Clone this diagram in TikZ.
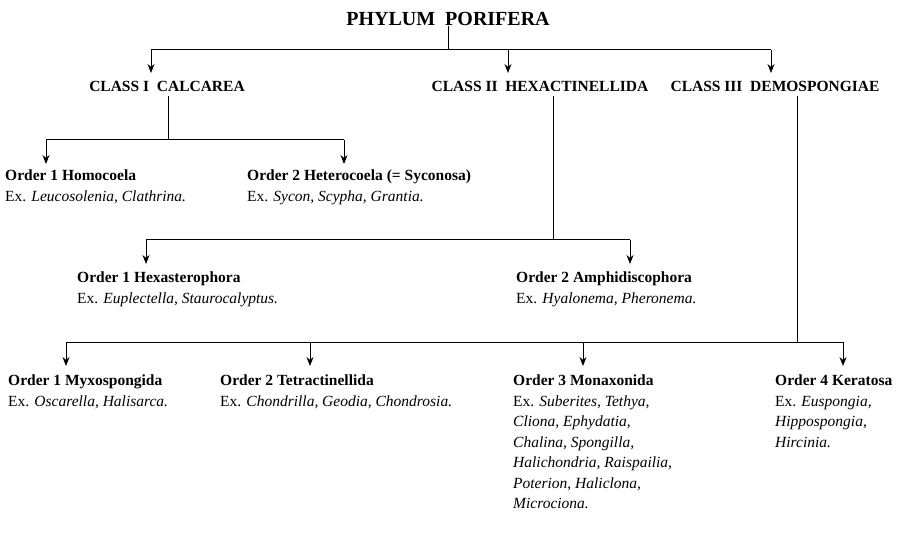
\documentclass[tikz,border=0pt]{standalone}
\usepackage{fontspec}
\setmainfont{Liberation Serif}
\usetikzlibrary{arrows.meta}
\begin{document}
\begin{tikzpicture}[x=1pt,y=-1pt,
  ln/.style={line width=1pt},
  arr/.style={ln,-{Stealth[length=9pt,width=7pt]}},
  cls/.style={font=\fontsize{15.5}{18}\selectfont\bfseries,inner sep=0pt},
  ord/.style={anchor=north west,align=left,inner sep=0pt,font=\fontsize{15.5}{20.5}\selectfont}]
\useasboundingbox (0,0) rectangle (907,537);
\node[inner sep=0pt,font=\fontsize{20}{22}\selectfont\bfseries] (ph) at (448,19) {PHYLUM\ \ PORIFERA};
\node[cls] (c1) at (167,86) {CLASS I\ \ CALCAREA};
\node[cls] (c2) at (540,86) {CLASS II\ \ HEXACTINELLIDA};
\node[cls] (c3) at (775,86) {CLASS III\ \ DEMOSPONGIAE};
% top
\coordinate (j0) at (448,50);
\coordinate (l0) at (151,50); \coordinate (r0) at (771,50);
\coordinate (a1) at (151,73); \coordinate (a2) at (508,73); \coordinate (a3) at (771,73);
\draw[ln] (ph.south) -- (j0);
\draw[ln] (l0) -- (r0);
\draw[arr] (l0) -- (a1);
\draw[arr] (508,50) -- (a2);
\draw[arr] (r0) -- (a3);
% calcarea
\node[ord] (o11) at (5,170) {\textbf{Order 1 Homocoela}\\Ex. \textit{Leucosolenia, Clathrina.}};
\node[ord] (o12) at (247,170) {\textbf{Order 2 Heterocoela (= Syconosa)}\\Ex. \textit{Sycon, Scypha, Grantia.}};
\coordinate (k1) at (168,140);
\draw[ln] (168,96) -- (k1);
\draw[ln] (46,140) -- (344,140);
\draw[arr] (46,140) -- (46,164);
\draw[arr] (344,140) -- (344,164);
% hexactinellida
\node[ord] (o21) at (77,272) {\textbf{Order 1 Hexasterophora}\\Ex. \textit{Euplectella, Staurocalyptus.}};
\node[ord] (o22) at (516,272) {\textbf{Order 2 Amphidiscophora}\\Ex. \textit{Hyalonema, Pheronema.}};
\coordinate (k2) at (553,240);
\draw[ln] (553,96) -- (k2);
\draw[ln] (146,240) -- (630,240);
\draw[arr] (146,240) -- (146,264);
\draw[arr] (630,240) -- (630,264);
% demospongiae
\node[ord] (o31) at (8,375) {\textbf{Order 1 Myxospongida}\\Ex. \textit{Oscarella, Halisarca.}};
\node[ord] (o32) at (220,375) {\textbf{Order 2 Tetractinellida}\\Ex. \textit{Chondrilla, Geodia, Chondrosia.}};
\node[ord] (o33) at (513,375) {\textbf{Order 3 Monaxonida}\\Ex. \textit{Suberites, Tethya,}\\\textit{Cliona, Ephydatia,}\\\textit{Chalina, Spongilla,}\\\textit{Halichondria, Raispailia,}\\\textit{Poterion, Haliclona,}\\\textit{Microciona.}};
\node[ord] (o34) at (775,375) {\textbf{Order 4 Keratosa}\\Ex. \textit{Euspongia,}\\\textit{Hippospongia,}\\\textit{Hircinia.}};
\coordinate (k3) at (797,342);
\draw[ln] (797,96) -- (k3);
\draw[ln] (66,342) -- (843,342);
\draw[arr] (66,342) -- (66,366);
\draw[arr] (310,342) -- (310,366);
\draw[arr] (583,342) -- (583,366);
\draw[arr] (843,342) -- (843,366);
\end{tikzpicture}
\end{document}
